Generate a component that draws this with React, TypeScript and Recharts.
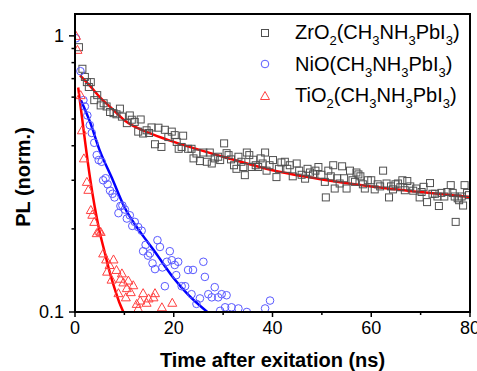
import React from "react"
import {
  ComposedChart,
  Scatter,
  Line,
  XAxis,
  YAxis,
  Legend,
} from "recharts"

// measured PL decays: [time (ns), normalised PL]
const zrO2Points: [number, number][] = [
  [0.8, 0.91], [1.5, 0.76], [2.0, 0.71], [2.4, 0.68], [2.8, 0.653], [3.2, 0.68], [3.9, 0.585],
  [4.5, 0.61], [5.2, 0.56], [5.8, 0.57], [6.4, 0.555], [7.1, 0.53], [7.8, 0.525], [8.4, 0.52],
  [9.1, 0.545], [9.5, 0.51], [10.5, 0.483], [11.1, 0.515], [11.5, 0.497], [12.1, 0.488],
  [12.8, 0.45], [13.3, 0.498], [13.8, 0.443], [14.5, 0.455], [15.0, 0.445], [15.5, 0.466],
  [16.2, 0.405], [16.9, 0.465], [17.5, 0.396], [18.2, 0.457], [18.9, 0.43], [19.6, 0.45],
  [20.2, 0.437], [20.6, 0.413], [21.0, 0.39], [21.6, 0.396], [21.9, 0.435], [22.9, 0.39],
  [23.6, 0.39], [24.0, 0.36], [24.6, 0.375], [25.3, 0.352], [26.0, 0.378], [26.7, 0.35],
  [27.3, 0.378], [27.7, 0.345], [28.3, 0.36], [29.0, 0.365], [29.4, 0.355], [30.2, 0.408],
  [30.7, 0.376], [31.1, 0.37], [31.6, 0.357], [32.2, 0.34], [32.7, 0.33], [33.1, 0.365],
  [33.7, 0.35], [34.1, 0.335], [34.4, 0.313], [34.8, 0.378], [35.3, 0.37], [35.8, 0.335],
  [36.1, 0.356], [36.6, 0.34], [37.1, 0.335], [37.6, 0.36], [38.0, 0.345], [38.5, 0.378],
  [38.8, 0.325], [39.4, 0.34], [40.1, 0.355], [40.8, 0.308], [41.3, 0.33], [41.8, 0.348],
  [42.5, 0.35], [43.0, 0.33], [43.5, 0.34], [44.1, 0.31], [44.9, 0.345], [45.4, 0.325],
  [45.9, 0.314], [46.6, 0.304], [47.1, 0.33], [47.6, 0.32], [48.2, 0.315], [48.7, 0.325],
  [49.3, 0.335], [49.9, 0.314], [50.6, 0.296], [50.8, 0.26], [51.3, 0.325], [51.8, 0.31],
  [52.3, 0.34], [52.6, 0.28], [53.1, 0.305], [53.6, 0.292], [54.1, 0.337], [54.5, 0.305],
  [55.0, 0.28], [55.7, 0.325], [56.2, 0.3], [56.7, 0.296], [57.0, 0.32], [57.4, 0.315],
  [57.8, 0.31], [58.3, 0.29], [58.7, 0.28], [59.3, 0.3], [60.0, 0.3], [60.7, 0.278],
  [61.3, 0.29], [61.8, 0.285], [62.4, 0.325], [63.1, 0.292], [63.6, 0.26], [64.0, 0.285],
  [64.4, 0.278], [64.9, 0.29], [65.4, 0.292], [65.9, 0.283], [66.3, 0.3], [66.8, 0.276],
  [67.3, 0.298], [67.9, 0.285], [68.5, 0.275], [69.1, 0.28], [69.8, 0.26], [70.2, 0.272],
  [70.6, 0.284], [71.3, 0.25], [71.9, 0.293], [72.4, 0.268], [72.9, 0.268], [73.4, 0.262],
  [73.7, 0.242], [74.2, 0.27], [74.8, 0.262], [75.4, 0.272], [76.1, 0.288], [76.5, 0.27],
  [76.9, 0.262], [77.1, 0.212], [77.5, 0.258], [77.8, 0.254], [78.3, 0.262], [78.6, 0.243],
  [78.9, 0.288], [79.4, 0.27], [79.8, 0.265],
]

const nioPoints: [number, number][] = [
  [0.2, 0.98], [1.1, 0.745], [1.7, 0.585], [2.0, 0.555], [2.5, 0.515], [3.0, 0.475],
  [3.4, 0.445], [3.9, 0.41], [4.4, 0.37], [4.8, 0.355], [5.4, 0.35], [5.7, 0.3], [6.2, 0.305],
  [6.6, 0.29], [7.1, 0.275], [7.6, 0.268], [8.0, 0.26], [8.8, 0.228], [9.2, 0.242],
  [9.6, 0.243], [10.1, 0.235], [10.5, 0.218], [11.1, 0.224], [11.6, 0.205], [12.1, 0.212],
  [12.8, 0.203], [13.5, 0.197], [13.8, 0.166], [14.3, 0.175], [14.8, 0.16], [15.2, 0.163],
  [15.7, 0.15], [16.2, 0.143], [16.7, 0.182], [17.2, 0.172], [17.7, 0.145], [18.2, 0.124],
  [18.6, 0.152], [19.2, 0.166], [19.6, 0.154], [20.2, 0.148], [20.5, 0.136], [20.9, 0.152],
  [21.6, 0.124], [22.3, 0.124], [22.9, 0.142], [23.6, 0.116], [23.9, 0.142], [24.6, 0.107],
  [25.3, 0.112], [26.0, 0.152], [26.3, 0.134], [27.0, 0.116], [27.7, 0.113], [28.3, 0.123],
  [29.0, 0.113], [29.4, 0.101], [29.7, 0.116], [30.4, 0.104], [30.7, 0.115], [31.7, 0.104],
  [33.1, 0.103], [34.8, 0.1], [38.5, 0.103], [39.5, 0.11],
]

const tio2Points: [number, number][] = [
  [0.2, 1.0], [0.5, 0.89], [1.15, 0.61], [1.4, 0.455], [1.8, 0.36], [2.4, 0.296],
  [2.7, 0.277], [3.2, 0.234], [3.5, 0.225], [3.9, 0.212], [4.4, 0.193], [4.9, 0.197],
  [5.2, 0.195], [5.7, 0.163], [6.3, 0.155], [6.5, 0.14], [7.0, 0.148], [7.4, 0.131],
  [7.8, 0.155], [8.4, 0.142], [8.8, 0.117], [9.2, 0.132], [9.5, 0.138], [9.8, 0.128],
  [10.3, 0.113], [10.5, 0.122], [10.8, 0.13], [11.3, 0.118], [11.8, 0.125], [12.5, 0.107],
  [12.8, 0.103], [13.2, 0.11], [13.8, 0.117], [14.5, 0.108], [14.9, 0.112], [15.9, 0.113],
  [16.2, 0.117], [17.6, 0.104], [19.7, 0.108],
]

// fitted curves
const zrO2Fit: [number, number][] = [
  [1, 0.72], [3, 0.66], [5, 0.6], [7.5, 0.545], [10, 0.495], [15, 0.445], [20, 0.413],
  [30, 0.365], [40, 0.326], [50, 0.302], [60, 0.285], [70, 0.272], [80, 0.261],
]
const nioFit: [number, number][] = [
  [1.2, 0.585], [3, 0.49], [5, 0.385], [7.5, 0.305], [10, 0.24], [13.2, 0.195], [16, 0.167],
  [20, 0.1325], [23, 0.115], [26.8, 0.1],
]
const tio2Fit: [number, number][] = [
  [0.65, 0.65], [1, 0.58], [2, 0.42], [3, 0.31], [4, 0.24], [5, 0.195], [6, 0.165],
  [7, 0.14], [8, 0.122], [9, 0.108], [9.8, 0.1],
]

const xTicks = [0, 10, 20, 30, 40, 50, 60, 70, 80]
const xLabels = [0, 20, 40, 60, 80]
const yTicks = [0.1, 0.2, 0.3, 0.4, 0.5, 0.6, 0.7, 0.8, 0.9, 1]
const yLabels = [0.1, 1]

const legendNames = ["ZrO2(CH3NH3PbI3)", "NiO(CH3NH3PbI3)", "TiO2(CH3NH3PbI3)"]

// layout
const W = 477
const H = 371
const margin = { top: 14, right: 7, bottom: 29, left: 0 }
const Y_AXIS_W = 75
const X_AXIS_H = 30

const FONT = "'Liberation Sans', Arial, sans-serif"
const frame = { stroke: "#000", strokeWidth: 2 }

const toRows = (pts: [number, number][]) => pts.map(([x, y]) => ({ x, y }))

const SquareDot = (p: any) => (
  <rect x={p.cx - 3.5} y={p.cy - 3.5} width={7} height={7} fill="none" stroke="#505050" strokeWidth={1} />
)
const CircleDot = (p: any) => (
  <circle cx={p.cx} cy={p.cy} r={3.8} fill="none" stroke="#5a5aff" strokeWidth={1} />
)
const TriangleDot = (p: any) => (
  <polygon
    points={`${p.cx},${p.cy - 4.5} ${p.cx + 4.5},${p.cy + 3.5} ${p.cx - 4.5},${p.cy + 3.5}`}
    fill="none"
    stroke="#ff4040"
    strokeWidth={1}
  />
)

function XTick({ x, y, payload }: any) {
  const major = xLabels.includes(payload.value)
  return (
    <g>
      <line x1={x} x2={x} y1={y} y2={y + (major ? 5 : 3)} stroke="#000" strokeWidth={1.5} />
      {major && (
        <text x={x} y={y + 22} textAnchor="middle" fontSize={18} fontFamily={FONT} fill="#000">
          {payload.value}
        </text>
      )}
    </g>
  )
}

function YTick({ x, y, payload }: any) {
  const major = yLabels.includes(payload.value)
  return (
    <g>
      <line x1={x - (major ? 6 : 3.5)} x2={x} y1={y} y2={y} stroke="#000" strokeWidth={1.5} />
      {major && (
        <text x={x - 11} y={y + 6} textAnchor="end" fontSize={18} fontFamily={FONT} fill="#000">
          {payload.value}
        </text>
      )}
    </g>
  )
}

// x-axis title, plus the right edge of the plot box
function XTitle({ viewBox }: any) {
  const right = viewBox.x + viewBox.width
  return (
    <g>
      <line x1={right} x2={right} y1={viewBox.y + 1} y2={margin.top - 1} {...frame} />
      <text
        x={viewBox.x + viewBox.width / 2}
        y={viewBox.y + 55}
        textAnchor="middle"
        fontSize={20}
        fontWeight="bold"
        fontFamily={FONT}
      >
        Time after exitation (ns)
      </text>
    </g>
  )
}

// y-axis title, plus the top edge of the plot box
function YTitle({ viewBox }: any) {
  const cx = viewBox.x + 23
  const cy = viewBox.y + viewBox.height / 2 + 14
  return (
    <g>
      <line x1={viewBox.x + viewBox.width - 1} x2={W - margin.right + 1} y1={viewBox.y} y2={viewBox.y} {...frame} />
      <text
        x={cx}
        y={cy}
        transform={`rotate(-90 ${cx} ${cy})`}
        textAnchor="middle"
        dominantBaseline="central"
        fontSize={20}
        fontWeight="bold"
        fontFamily={FONT}
      >
        PL (norm.)
      </text>
    </g>
  )
}

function subscripted(name: string) {
  return name.split("").map((ch, i) =>
    /\d/.test(ch) ? (
      <span key={i} style={{ fontSize: 13, position: "relative", top: 6 }}>{ch}</span>
    ) : (
      <span key={i}>{ch}</span>
    )
  )
}

const legendSymbols = [
  <rect x={4.5} y={4.5} width={7} height={7} fill="none" stroke="#505050" strokeWidth={1} />,
  <circle cx={8} cy={8} r={3.8} fill="none" stroke="#5a5aff" strokeWidth={1} />,
  <polygon points="8,3.5 12.5,11.5 3.5,11.5" fill="none" stroke="#ff4040" strokeWidth={1} />,
]

function LegendBox() {
  return (
    <div style={{ fontFamily: FONT, fontSize: 20, color: "#000" }}>
      {legendNames.map((name, i) => (
        <div key={name} style={{ display: "flex", alignItems: "center", height: 31.5, whiteSpace: "nowrap" }}>
          <svg width={16} height={16} style={{ marginRight: 22 }}>{legendSymbols[i]}</svg>
          <span>{subscripted(name)}</span>
        </div>
      ))}
    </div>
  )
}

export default function App() {
  const plotX = margin.left + Y_AXIS_W
  const plotY = margin.top
  const plotW = W - plotX - margin.right
  const plotH = H - margin.top - margin.bottom - X_AXIS_H
  return (
    <div style={{ position: "absolute", left: 0, top: 0, width: W, height: H, background: "#fff" }}>
      <ComposedChart width={W} height={H} margin={margin}>
        <XAxis
          dataKey="x"
          type="number"
          domain={[0, 80]}
          ticks={xTicks}
          allowDataOverflow
          tickSize={0}
          tickMargin={0}
          tickLine={false}
          tick={<XTick />}
          interval={0}
          height={X_AXIS_H}
          axisLine={frame}
          label={{ content: XTitle }}
        />
        <YAxis
          dataKey="y"
          type="number"
          scale="log"
          domain={[0.1, 1.2]}
          ticks={yTicks}
          allowDataOverflow
          tickSize={0}
          tickMargin={0}
          tickLine={false}
          tick={<YTick />}
          interval={0}
          width={Y_AXIS_W}
          axisLine={frame}
          label={{ content: YTitle }}
        />
        <Scatter data={toRows(zrO2Points)} dataKey="y" shape={SquareDot} isAnimationActive={false} />
        <Scatter data={toRows(nioPoints)} dataKey="y" shape={CircleDot} isAnimationActive={false} />
        <Scatter data={toRows(tio2Points)} dataKey="y" shape={TriangleDot} isAnimationActive={false} />
        <Line data={toRows(zrO2Fit)} dataKey="y" type="monotone" stroke="#ff0000" strokeWidth={2.5} dot={false} isAnimationActive={false} />
        <Line data={toRows(nioFit)} dataKey="y" type="monotone" stroke="#0000ff" strokeWidth={2.5} dot={false} isAnimationActive={false} />
        <Line data={toRows(tio2Fit)} dataKey="y" type="monotone" stroke="#ff0000" strokeWidth={2.5} dot={false} isAnimationActive={false} />
        <Legend
          layout="vertical"
          verticalAlign="middle"
          align="center"
          content={<LegendBox />}
          wrapperStyle={{ top: 17, left: 257, right: "auto", width: "auto" }}
        />
      </ComposedChart>
      {/* top and right edges of the plot box, drawn over the chart */}
      <svg
        width={W}
        height={H}
        style={{ position: "absolute", left: 0, top: 0, pointerEvents: "none" }}
      >
        <rect x={plotX} y={plotY} width={plotW} height={plotH} fill="none" {...frame} />
      </svg>
    </div>
  )
}
